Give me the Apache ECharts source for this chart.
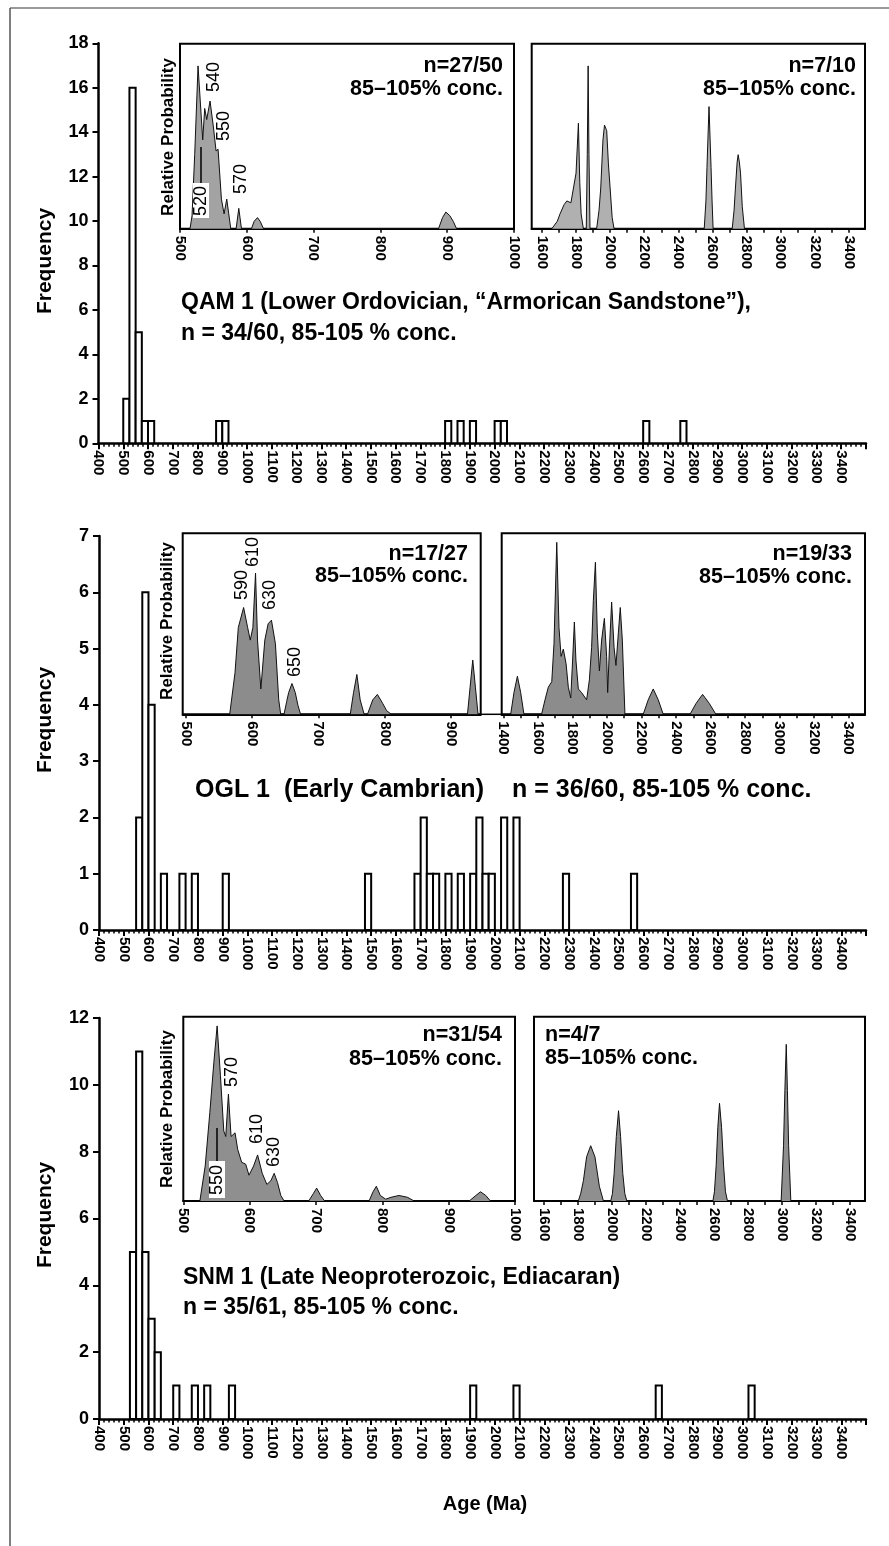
<!DOCTYPE html>
<html><head><meta charset="utf-8">
<script src="https://cdn.jsdelivr.net/npm/echarts@6/dist/echarts.min.js"></script>
<style>html,body{margin:0;padding:0;background:#fff}#c{width:889px;height:1546px}</style>
</head><body><div id="c"></div>
<script>
// ---------- DATA ----------
const BIN = 25; // histogram bin width (Ma)
// QAM 1 histogram: bin start (Ma) and frequency
const qamBinStarts = [500,525,550,575,600,875,900,1800,1850,1900,2000,2025,2600,2750];
const qamCounts    = [2,16,5,1,1,1,1,1,1,1,1,1,1,1];
// OGL 1 histogram
const oglBinStarts = [550,575,600,650,725,775,900,1475,1675,1700,1725,1750,1800,1850,1900,1925,1950,1975,2025,2075,2275,2550];
const oglCounts    = [2,6,4,1,1,1,1,1,1,2,1,1,1,1,1,2,1,1,2,2,1,1];
// SNM 1 histogram
const snmBinStarts = [525,550,575,600,625,700,775,825,925,1900,2075,2650,3025];
const snmCounts    = [5,11,5,3,2,1,1,1,1,1,1,1,1];

// relative probability curves [age Ma, relative probability %]
const qamYoungPdf = [[515,0],[518,7],[522,40],[527,88],[534,48],[537,65],[540,59],[545,69],[550,55],[554,42],[557,43],[562,16],[566,8],[570,16],[573,8],[576,0],[584,0],[588,11],[592,0],[607,0],[611,4],[616,6],[620,4],[625,0],[887,0],[893,6],[898,9],[904,7],[909,4],[914,0]];
const qamOldPdf = [[1658,0],[1690,4],[1706,8],[1730,13],[1746,15],[1757,16],[1770,14],[1781,13],[1800,30],[1814,57],[1822,25],[1830,8],[1843,0],[1860,0],[1866,40],[1871,88],[1876,40],[1882,0],[1921,0],[1935,10],[1945,22],[1958,48],[1967,56],[1980,53],[1990,35],[2000,22],[2012,6],[2023,0],[2552,0],[2562,15],[2568,33],[2580,66],[2592,33],[2598,15],[2604,0],[2716,0],[2727,10],[2735,22],[2745,36],[2751,40],[2758,36],[2765,30],[2775,12],[2788,0]];
const oglYoungPdf = [[566,0],[574,23],[579,48],[587,59],[593,48],[597,41],[601,48],[605,78],[608,41],[613,14],[619,41],[624,50],[629,52],[635,39],[640,8],[643,0],[648,0],[652,7],[655,12],[660,17],[665,12],[669,5],[673,0],[748,0],[753,12],[758,22],[763,8],[769,0],[774,0],[782,8],[789,11],[797,6],[803,2],[810,0],[925,0],[929,15],[933,30],[937,15],[941,0]];
const oglOldPdf = [[1442,0],[1461,12],[1481,21],[1500,12],[1519,0],[1621,0],[1641,8],[1660,15],[1680,18],[1693,39],[1709,95],[1722,48],[1734,32],[1747,36],[1763,28],[1776,15],[1790,9],[1801,30],[1811,51],[1820,30],[1834,14],[1853,12],[1882,8],[1898,19],[1911,37],[1921,63],[1933,84],[1944,45],[1956,24],[1969,41],[1985,53],[1998,32],[2004,12],[2014,36],[2027,62],[2041,37],[2052,27],[2066,45],[2077,59],[2089,41],[2104,0],[2210,0],[2239,8],[2268,14],[2297,8],[2326,0],[2481,0],[2516,6],[2554,11],[2593,6],[2631,0]];
const snmYoungPdf = [[525,0],[533,19],[540,48],[546,75],[551,95],[556,68],[561,38],[564,35],[568,58],[572,35],[578,37],[582,28],[588,21],[594,20],[599,14],[606,19],[612,25],[619,15],[626,9],[632,11],[637,15],[642,10],[647,3],[652,0],[689,0],[696,4],[701,7],[707,3],[713,0],[780,0],[786,5],[791,8],[797,3],[805,1],[813,2],[825,3],[838,2],[848,0],[931,0],[941,3],[948,5],[956,3],[963,0]];
const snmOldPdf = [[1801,0],[1815,4],[1831,11],[1850,24],[1874,30],[1899,24],[1925,8],[1949,0],[1992,0],[2002,4],[2012,15],[2025,35],[2038,49],[2050,35],[2063,15],[2075,4],[2087,0],[2594,0],[2603,5],[2613,19],[2623,40],[2633,53],[2645,40],[2657,19],[2668,5],[2680,0],[2996,0],[3010,30],[3018,60],[3026,85],[3033,60],[3040,30],[3053,0]];

// axis tick values
const mainTicks = [400,500,600,700,800,900,1000,1100,1200,1300,1400,1500,1600,1700,1800,1900,2000,2100,2200,2300,2400,2500,2600,2700,2800,2900,3000,3100,3200,3300,3400];
const youngLabels = [500,600,700,800,900,1000];
const oglYoungLabels = [500,600,700,800,900];
const oldLabels = [1600,1800,2000,2200,2400,2600,2800,3000,3200,3400];
const oldTicks = [1600,1700,1800,1900,2000,2100,2200,2300,2400,2500,2600,2700,2800,2900,3000,3100,3200,3300,3400];
const oglOldLabels = [1400,1600,1800,2000,2200,2400,2600,2800,3000,3200,3400];
const oglOldTicks = [1400,1500,1600,1700,1800,1900,2000,2100,2200,2300,2400,2500,2600,2700,2800,2900,3000,3100,3200,3300,3400];

// ---------- CHART ----------
const FONT = '"Liberation Sans", Arial, Helvetica, sans-serif';
const chart = echarts.init(document.getElementById('c'), null, {renderer:'canvas'});

const grids = [
  {left:98.5, top:43.3, width:767.5, height:400},      // 0 QAM main
  {left:180, top:43.7, width:334, height:185},         // 1 QAM young inset
  {left:531.7, top:43.7, width:333.3, height:185},     // 2 QAM old inset
  {left:99, top:536, width:767, height:394},           // 3 OGL main
  {left:182.7, top:533.3, width:298, height:181},      // 4 OGL young inset
  {left:501.7, top:533.3, width:363.3, height:181},    // 5 OGL old inset
  {left:99, top:1018, width:767, height:401},          // 6 SNM main
  {left:183.3, top:1016.7, width:331.7, height:184.3}, // 7 SNM young inset
  {left:534, top:1016.7, width:331, height:184.3}      // 8 SNM old inset
].map((g,i)=>Object.assign({containLabel:false}, g,
  [1,2,4,5,7,8].includes(i) ? {show:true, borderColor:'#000', borderWidth:2, backgroundColor:'#fff'} : {show:false}));

function mainX(g){
  return {type:'value', gridIndex:g, min:400, max:3500, interval:100,
    axisLine:{onZero:false, lineStyle:{color:'#000', width:2.5}},
    axisTick:{show:true, length:6, lineStyle:{color:'#000', width:2}},
    minorTick:{show:true, splitNumber:5, length:3.5, lineStyle:{color:'#000', width:1.5}},
    axisLabel:{rotate:-90, fontSize:15, fontWeight:'bold', color:'#000', fontFamily:FONT, margin:7, showMaxLabel:false,
      formatter:v=> mainTicks.includes(v) ? String(v) : ''},
    splitLine:{show:false}, minorSplitLine:{show:false}};
}
function mainY(g, max, interval){
  return {type:'value', gridIndex:g, min:0, max:max, interval:interval,
    axisLine:{show:true, onZero:false, lineStyle:{color:'#000', width:2.5}},
    axisTick:{show:true, length:6, lineStyle:{color:'#000', width:2}},
    axisLabel:{fontSize:18, fontWeight:'bold', color:'#000', fontFamily:FONT, margin:10},
    splitLine:{show:false}};
}
function insetX(g, min, max, ticks, labels){
  return {type:'value', gridIndex:g, min:min, max:max,
    axisLine:{onZero:false, lineStyle:{color:'#000', width:2}},
    axisTick:{show:true, customValues:ticks, length:4, lineStyle:{color:'#000', width:1.5}},
    axisLabel:{customValues:labels, rotate:-90, fontSize:15, fontWeight:'bold', color:'#000', fontFamily:FONT, margin:7,
      formatter:v=>String(Math.round(v))},
    splitLine:{show:false}};
}
function insetY(g){ return {type:'value', gridIndex:g, min:0, max:100, show:false}; }

function histSeries(ax, starts, counts){
  return {type:'custom', xAxisIndex:ax, yAxisIndex:ax, silent:true, clip:false, z:3,
    data: starts.map((s,i)=>[s, counts[i]]),
    renderItem:(params, api)=>{
      const s = api.value(0), c = api.value(1);
      const p0 = api.coord([s, c]), p1 = api.coord([s+BIN, 0]);
      return {type:'rect', shape:{x:p0[0], y:p0[1], width:p1[0]-p0[0], height:p1[1]-p0[1]},
        style:{fill:'#fff', stroke:'#000', lineWidth:2}};
    }};
}
function pdfSeries(ax, pts, fill){
  return {type:'line', xAxisIndex:ax, yAxisIndex:ax, data:pts, symbol:'none', smooth:false, silent:true, z:3,
    lineStyle:{color:'#111', width:1}, areaStyle:{color:fill, opacity:1}};
}

// text helpers
function T(x, y, s, font, align, rot){
  return {type:'text', x:x, y:y, rotation:rot||0, z:20, silent:true,
    style:{text:s, fill:'#000', font:font, align:align||'left', verticalAlign:'middle'}};
}
const BIG = 'bold 23px ' + FONT;
const BIG2 = 'bold 25px ' + FONT;
const MID = 'bold 21.5px ' + FONT;
const RP = 'bold 17px ' + FONT;
const PK = '18px ' + FONT;
const R90 = Math.PI/2;

const elements = [
  {type:'line', shape:{x1:10, y1:8, x2:889, y2:8}, style:{stroke:'#777', lineWidth:1.5}, z:1},
  {type:'line', shape:{x1:10, y1:8, x2:10, y2:1546}, style:{stroke:'#555', lineWidth:1.5}, z:1},
  // Frequency labels
  T(45, 261, 'Frequency', 'bold 21px '+FONT, 'center', R90),
  T(45, 720, 'Frequency', 'bold 21px '+FONT, 'center', R90),
  T(45, 1215, 'Frequency', 'bold 21px '+FONT, 'center', R90),
  T(485, 1504, 'Age (Ma)', 'bold 20px '+FONT, 'center'),
  // titles
  T(181, 303, 'QAM 1 (Lower Ordovician, \u201CArmorican Sandstone\u201D),', BIG),
  T(181, 334, 'n = 34/60, 85-105 % conc.', BIG),
  T(195, 790, 'OGL 1  (Early Cambrian)', BIG2),
  T(512, 790, 'n = 36/60, 85-105 % conc.', BIG2),
  T(183, 1278, 'SNM 1 (Late Neoproterozoic, Ediacaran)', BIG),
  T(183, 1308, 'n = 35/61, 85-105 % conc.', BIG),
  // inset headers
  T(503, 66, 'n=27/50', MID, 'right'),
  T(503, 89, '85\u2013105% conc.', MID, 'right'),
  T(856, 66, 'n=7/10', MID, 'right'),
  T(856, 89, '85\u2013105% conc.', MID, 'right'),
  T(468, 554, 'n=17/27', MID, 'right'),
  T(468, 576, '85\u2013105% conc.', MID, 'right'),
  T(852, 554, 'n=19/33', MID, 'right'),
  T(852, 577, '85\u2013105% conc.', MID, 'right'),
  T(502, 1035, 'n=31/54', MID, 'right'),
  T(502, 1059, '85\u2013105% conc.', MID, 'right'),
  T(545, 1035, 'n=4/7', MID, 'left'),
  T(545, 1058, '85\u2013105% conc.', MID, 'left'),
  // Relative Probability
  T(168, 137, 'Relative Probability', RP, 'center', R90),
  T(167.5, 621, 'Relative Probability', RP, 'center', R90),
  T(167.5, 1109, 'Relative Probability', RP, 'center', R90),
  // peak labels QAM
  T(214, 77, '540', PK, 'center', R90),
  T(224, 126, '550', PK, 'center', R90),
  T(241, 179, '570', PK, 'center', R90),
  {type:'rect', shape:{x:193, y:183, width:16, height:35}, style:{fill:'#fff'}, z:19},
  {type:'line', shape:{x1:201, y1:147, x2:201, y2:183}, style:{stroke:'#000', lineWidth:1.5}, z:20},
  T(201, 201, '520', PK, 'center', R90),
  // peak labels OGL
  T(242, 585, '590', PK, 'center', R90),
  T(253, 552, '610', PK, 'center', R90),
  T(270, 595, '630', PK, 'center', R90),
  T(295, 662, '650', PK, 'center', R90),
  // peak labels SNM
  T(232.5, 1072, '570', PK, 'center', R90),
  T(257.5, 1129, '610', PK, 'center', R90),
  T(274, 1152, '630', PK, 'center', R90),
  {type:'rect', shape:{x:209, y:1161, width:16, height:37}, style:{fill:'#fff'}, z:19},
  {type:'line', shape:{x1:217, y1:1128, x2:217, y2:1161}, style:{stroke:'#000', lineWidth:1.5}, z:20},
  T(217, 1180, '550', PK, 'center', R90),
  // OGL young axis extension
  {type:'line', shape:{x1:480, y1:714.3, x2:502, y2:714.3}, style:{stroke:'#000', lineWidth:1.5}, z:20}
];

const option = {
  animation:false,
  backgroundColor:'#fff',
  textStyle:{fontFamily:FONT},
  grid:grids,
  xAxis:[
    mainX(0),
    insetX(1, 500, 1000, youngLabels, youngLabels),
    insetX(2, 1540, 3495, oldTicks, oldLabels),
    mainX(3),
    insetX(4, 495, 945, oglYoungLabels, oglYoungLabels),
    insetX(5, 1390, 3495, oglOldTicks, oglOldLabels),
    mainX(6),
    insetX(7, 500, 1000, youngLabels, youngLabels),
    insetX(8, 1540, 3490, oldTicks, oldLabels)
  ],
  yAxis:[
    mainY(0, 18, 2), insetY(1), insetY(2),
    mainY(3, 7, 1), insetY(4), insetY(5),
    mainY(6, 12, 2), insetY(7), insetY(8)
  ],
  series:[
    histSeries(0, qamBinStarts, qamCounts),
    pdfSeries(1, qamYoungPdf, '#a3a3a3'),
    pdfSeries(2, qamOldPdf, '#b0b0b0'),
    histSeries(3, oglBinStarts, oglCounts),
    pdfSeries(4, oglYoungPdf, '#8c8c8c'),
    pdfSeries(5, oglOldPdf, '#8c8c8c'),
    histSeries(6, snmBinStarts, snmCounts),
    pdfSeries(7, snmYoungPdf, '#8f8f8f'),
    pdfSeries(8, snmOldPdf, '#8f8f8f')
  ],
  graphic:{elements:elements}
};
chart.setOption(option);
</script>
</body></html>
